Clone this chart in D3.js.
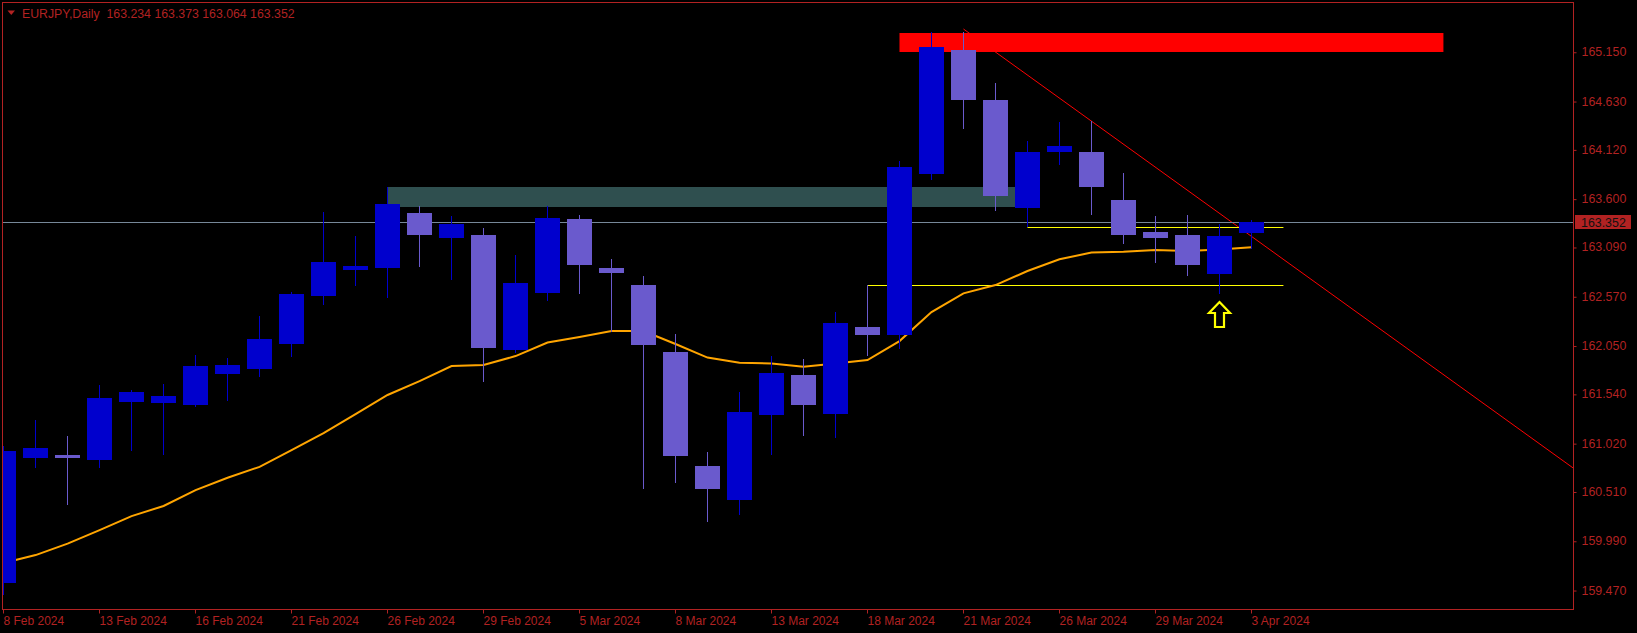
<!DOCTYPE html>
<html><head><meta charset="utf-8">
<script src="https://cdn.jsdelivr.net/npm/d3@7"></script>
<style>html,body{margin:0;padding:0;background:#000;overflow:hidden}</style>
</head><body>
<svg id="chart" width="1637" height="633"></svg>
<script>
// ---------------- data ----------------
const symbolTitle = "EURJPY,Daily";
const headerValues = ["163.234", "163.373", "163.064", "163.352"];
const dates = ["8 Feb","9 Feb","12 Feb","13 Feb","14 Feb","15 Feb","16 Feb","19 Feb","20 Feb","21 Feb",
  "22 Feb","23 Feb","26 Feb","27 Feb","28 Feb","29 Feb","1 Mar","4 Mar","5 Mar","6 Mar",
  "7 Mar","8 Mar","11 Mar","12 Mar","13 Mar","14 Mar","15 Mar","18 Mar","19 Mar","20 Mar",
  "21 Mar","22 Mar","25 Mar","26 Mar","27 Mar","28 Mar","29 Mar","1 Apr","2 Apr","3 Apr"];
const opens  = [159.547,160.866,160.895,160.845,161.457,161.443,161.422,161.749,161.802,162.069,
  162.575,162.850,162.871,163.448,163.188,163.216,162.002,162.604,163.385,162.868,
  162.688,161.981,160.778,160.420,161.317,161.739,161.330,162.245,162.164,163.863,
  165.171,164.640,163.504,164.095,164.092,163.585,163.248,163.216,162.808,163.234];
const highs  = [160.990,161.264,161.095,161.633,161.580,161.644,161.950,161.918,162.361,162.614,
  163.459,163.205,163.726,163.522,163.416,163.290,163.005,163.522,163.427,162.963,
  162.783,162.171,160.926,161.559,161.939,161.908,162.403,162.688,163.994,165.355,
  165.355,164.820,164.208,164.408,164.422,163.870,163.416,163.427,163.332,163.373];
const lows   = [159.420,160.760,160.367,160.760,160.940,160.895,161.404,161.464,161.721,161.929,
  162.477,162.678,162.554,162.878,162.744,161.668,161.971,162.520,162.593,162.192,
  160.536,160.599,160.188,160.261,160.895,161.095,161.074,161.942,162.013,163.800,
  164.338,163.472,163.304,163.955,163.427,163.121,162.921,162.783,162.593,163.064];
const closes = [160.937,160.968,160.863,161.496,161.559,161.517,161.834,161.844,162.118,162.593,
  162.931,162.889,163.543,163.216,163.332,162.027,162.706,163.395,162.899,162.815,
  162.055,160.884,160.536,161.348,161.757,161.422,162.287,162.164,163.934,165.200,
  164.640,163.631,164.092,164.155,163.722,163.216,163.188,162.899,163.206,163.352];
const maValues = [159.755,159.839,159.960,160.103,160.250,160.357,160.525,160.655,160.770,160.947,
  161.127,161.327,161.528,161.675,161.834,161.844,161.939,162.082,162.140,162.203,
  162.203,162.066,161.923,161.868,161.860,161.826,161.860,161.897,162.097,162.403,
  162.601,162.688,162.836,162.960,163.031,163.040,163.058,163.047,163.063,163.086];
const dateTickIdx = [0,3,6,9,12,15,18,21,24,27,30,33,36,39];
const dateTickLabels = ["8 Feb 2024","13 Feb 2024","16 Feb 2024","21 Feb 2024","26 Feb 2024","29 Feb 2024",
  "5 Mar 2024","8 Mar 2024","13 Mar 2024","18 Mar 2024","21 Mar 2024","26 Mar 2024","29 Mar 2024","3 Apr 2024"];
const priceTickLabels = ["159.470","159.990","160.510","161.020","161.540","162.050",
  "162.570","163.090","163.600","164.120","164.630","165.150"];
const bidPrice = 163.352;
// objects: [startIndex, endIndex, priceTop, priceBottom]
const zoneTeal = [12, 32, 163.725, 163.510];
const zoneRed  = [28, 45, 165.347, 165.147];
// trend line: two anchor points (index, price), extended to the right
const trendIdx = [30, 40];
const trendPrice = [165.390, 162.959];
// horizontal levels: [startIndex, endIndex, price]
const levelsYellow = [[32, 40, 163.305], [27, 40, 162.688]];
const arrowIdx = 38, arrowPrice = 162.510;

// ---------------- layout ----------------
const W = 1637, H = 633;
const plot = {left: 2, right: 1573, top: 2, bottom: 609};
const fg = "#B22222";
const bullColor = "#0000CD", bearColor = "#6A5ACD";
const font = "'Liberation Sans', Arial, sans-serif";

const svg = d3.select("#chart");
svg.append("rect").attr("width", W).attr("height", H).attr("fill", "#000");

const x = d3.scaleLinear().domain([-0.05, 49.05]).range([plot.left, plot.right]);
const y = d3.scaleLinear().domain([159.270, 165.675]).range([plot.bottom, plot.top]);

svg.append("defs").append("clipPath").attr("id", "clip")
  .append("rect").attr("x", plot.left + 1).attr("y", plot.top + 1)
  .attr("width", plot.right - plot.left - 1).attr("height", plot.bottom - plot.top - 1);

const g = svg.append("g").attr("clip-path", "url(#clip)");

// teal zone
g.append("rect").attr("x", x(zoneTeal[0])).attr("width", x(zoneTeal[1]) - x(zoneTeal[0]))
  .attr("y", Math.round(y(zoneTeal[2]))).attr("height", Math.round(y(zoneTeal[3])) - Math.round(y(zoneTeal[2])))
  .attr("fill", "#2F4F4F");

// trend line (ray)
const slope = (trendPrice[1] - trendPrice[0]) / (trendIdx[1] - trendIdx[0]);
const endIdx = x.domain()[1];
g.append("line")
  .attr("x1", x(trendIdx[0])).attr("y1", y(trendPrice[0]))
  .attr("x2", x(endIdx)).attr("y2", y(trendPrice[0] + slope * (endIdx - trendIdx[0])))
  .attr("stroke", "#FF0000").attr("stroke-width", 1);

// red zone
g.append("rect").attr("x", x(zoneRed[0])).attr("width", x(zoneRed[1]) - x(zoneRed[0]))
  .attr("y", Math.round(y(zoneRed[2]))).attr("height", Math.round(y(zoneRed[3])) - Math.round(y(zoneRed[2])))
  .attr("fill", "#FF0000");

// yellow levels
levelsYellow.forEach(l => {
  const yy = Math.round(y(l[2])) + 0.5;
  g.append("line").attr("x1", x(l[0])).attr("x2", x(l[1])).attr("y1", yy).attr("y2", yy)
    .attr("stroke", "#FFFF00").attr("stroke-width", 1);
});

// bid line
const by = Math.round(y(bidPrice)) + 0.5;
g.append("line").attr("x1", plot.left).attr("x2", plot.right).attr("y1", by).attr("y2", by)
  .attr("stroke", "#778899").attr("stroke-width", 1);

// moving average
const ma = d3.line().x((d, i) => x(i)).y(d => y(d));
g.append("path").datum(maValues).attr("d", ma).attr("fill", "none")
  .attr("stroke", "#FFA500").attr("stroke-width", 2);

// candles
const candles = d3.range(dates.length).map(i => ({i, o: opens[i], h: highs[i], l: lows[i], c: closes[i]}));
const cg = g.append("g").attr("shape-rendering", "crispEdges");
candles.forEach(d => {
  const col = d.c >= d.o ? bullColor : bearColor;
  const cx = Math.floor(x(d.i));
  const yh = Math.round(y(d.h)), yl = Math.round(y(d.l));
  cg.append("rect").attr("x", cx).attr("width", 1).attr("y", yh).attr("height", Math.max(1, yl - yh)).attr("fill", col);
  const yo = Math.round(y(d.o)), yc = Math.round(y(d.c));
  const top = Math.min(yo, yc), bh = Math.max(2, Math.abs(yo - yc));
  cg.append("rect").attr("x", cx - 12).attr("width", 25).attr("y", top).attr("height", bh).attr("fill", col);
});

// arrow
const ax = Math.floor(x(arrowIdx)) + 0.5, ay = Math.round(y(arrowPrice));
const arrowPath = d3.path();
arrowPath.moveTo(ax, ay);
arrowPath.lineTo(ax + 10.5, ay + 11);
arrowPath.lineTo(ax + 4.5, ay + 11);
arrowPath.lineTo(ax + 4.5, ay + 25);
arrowPath.lineTo(ax - 4.5, ay + 25);
arrowPath.lineTo(ax - 4.5, ay + 11);
arrowPath.lineTo(ax - 10.5, ay + 11);
arrowPath.closePath();
svg.append("path").attr("d", arrowPath.toString()).attr("fill", "#000")
  .attr("stroke", "#FFFF00").attr("stroke-width", 2.2).attr("stroke-linejoin", "miter");

// frame
svg.append("rect").attr("x", plot.left + 0.5).attr("y", plot.top + 0.5)
  .attr("width", plot.right - plot.left).attr("height", plot.bottom - plot.top)
  .attr("fill", "none").attr("stroke", fg).attr("stroke-width", 1);

// price axis
const yAxis = d3.axisRight(y).tickValues(priceTickLabels.map(Number)).tickSize(3).tickPadding(5)
  .tickFormat((d, i) => priceTickLabels[i]);
const ya = svg.append("g").attr("transform", `translate(${plot.right + 0.5},0)`).call(yAxis);
ya.select(".domain").remove();
ya.selectAll(".tick line").attr("stroke", fg).attr("transform", "translate(0,0.5)");
ya.selectAll(".tick text").attr("fill", fg).attr("font-family", font).attr("font-size", 12.4);

// bid price label
const bl = svg.append("g");
bl.append("rect").attr("x", plot.right + 2).attr("y", by - 7.5).attr("width", 56).attr("height", 14).attr("fill", "#B22222");
bl.append("text").attr("x", plot.right + 8).attr("y", by + 4.5).attr("fill", "#111").attr("font-family", font)
  .attr("font-size", 12.4).text(bidPrice.toFixed(3));

// date axis
const xAxis = d3.axisBottom(x).tickValues(dateTickIdx).tickSize(4).tickPadding(3)
  .tickFormat((d, i) => dateTickLabels[i]);
const xa = svg.append("g").attr("transform", `translate(0,${plot.bottom + 0.5})`).call(xAxis);
xa.select(".domain").remove();
xa.selectAll(".tick").attr("transform", d => `translate(${Math.floor(x(d)) + 0.5},0)`);
xa.selectAll(".tick line").attr("stroke", fg);
xa.selectAll(".tick text").attr("fill", fg).attr("font-family", font).attr("font-size", 12)
  .attr("text-anchor", "start").attr("x", 0).attr("dy", "0.71em");

// header
svg.append("path").attr("d", d3.line()([[7.5, 10.5], [15, 10.5], [11.25, 15]]) + "Z").attr("fill", fg);
svg.append("text").attr("x", 22).attr("y", 17.5).attr("fill", fg).attr("font-family", font)
  .attr("font-size", 12.3).style("white-space", "pre")
  .text(symbolTitle + "  " + headerValues.join(" "));
</script>
</body></html>
